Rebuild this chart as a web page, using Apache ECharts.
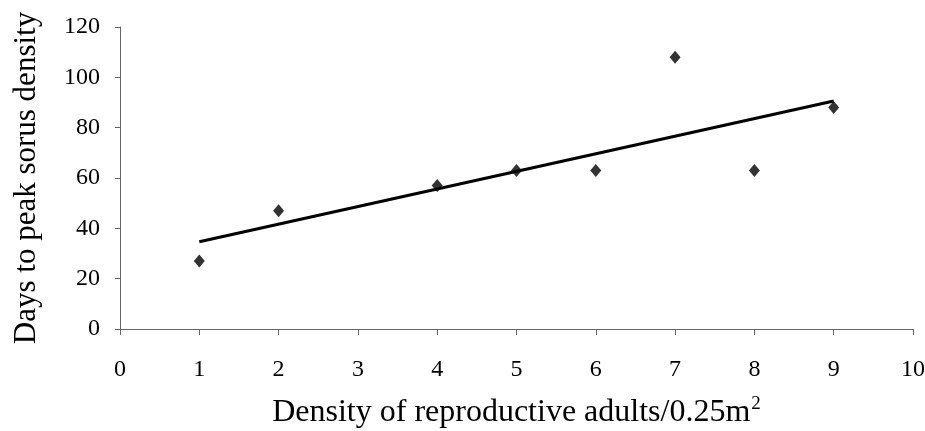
<!DOCTYPE html>
<html>
<head>
<meta charset="utf-8">
<script src="https://cdn.jsdelivr.net/npm/echarts@6/dist/echarts.min.js"></script>
<style>
  html, body { margin: 0; padding: 0; background: #fff; }
  #chart { width: 925px; height: 431px; }
</style>
</head>
<body>
<div id="chart"></div>
<script>
// values
const densityX = [1, 2, 4, 5, 6, 7, 8, 9]
const daysY = [27, 47, 57, 63, 63, 108, 63, 88]
const trendX = [1, 9]
const trendY = [34.7, 90.6]

const points = densityX.map((x, i) => [x, daysY[i]])
const trend = trendX.map((x, i) => [x, trendY[i]])

const font = '"Liberation Serif", "Times New Roman", serif'

const chart = echarts.init(document.getElementById('chart'))
chart.setOption({
  animation: false,
  grid: { left: 120, right: 12, top: 27, bottom: 102, outerBoundsMode: 'none', containLabel: false },
  xAxis: {
    type: 'value',
    min: 0,
    max: 10,
    interval: 1,
    name: '{t|Density of reproductive adults/0.25m}{s|2}',
    nameLocation: 'middle',
    nameGap: 66,
    nameTextStyle: {
      rich: {
        t: { fontFamily: font, fontSize: 32, color: '#000' },
        s: { fontFamily: font, fontSize: 19, color: '#000', verticalAlign: 'top', padding: [0, 0, 16, 1] }
      }
    },
    axisLine: { lineStyle: { color: '#666', width: 1 } },
    axisTick: { show: true, length: 6, lineStyle: { color: '#666' } },
    axisLabel: { fontFamily: font, fontSize: 24, color: '#000', margin: 29 },
    splitLine: { show: false }
  },
  yAxis: {
    type: 'value',
    min: 0,
    max: 120,
    interval: 20,
    name: 'Days to peak sorus density',
    nameLocation: 'middle',
    nameGap: 78,
    nameTextStyle: { fontFamily: font, fontSize: 31, color: '#000' },
    axisLine: { show: true, lineStyle: { color: '#666', width: 1 } },
    axisTick: { show: true, length: 5, lineStyle: { color: '#666' } },
    axisLabel: { fontFamily: font, fontSize: 24, color: '#000', margin: 20 },
    splitLine: { show: false }
  },
  series: [
    {
      type: 'line',
      data: trend,
      symbol: 'none',
      lineStyle: { color: '#000', width: 3 },
      z: 2
    },
    {
      type: 'scatter',
      data: points,
      symbol: 'diamond',
      symbolSize: [11, 13],
      itemStyle: { color: '#000' },
      z: 3
    }
  ]
})
</script>
</body>
</html>
